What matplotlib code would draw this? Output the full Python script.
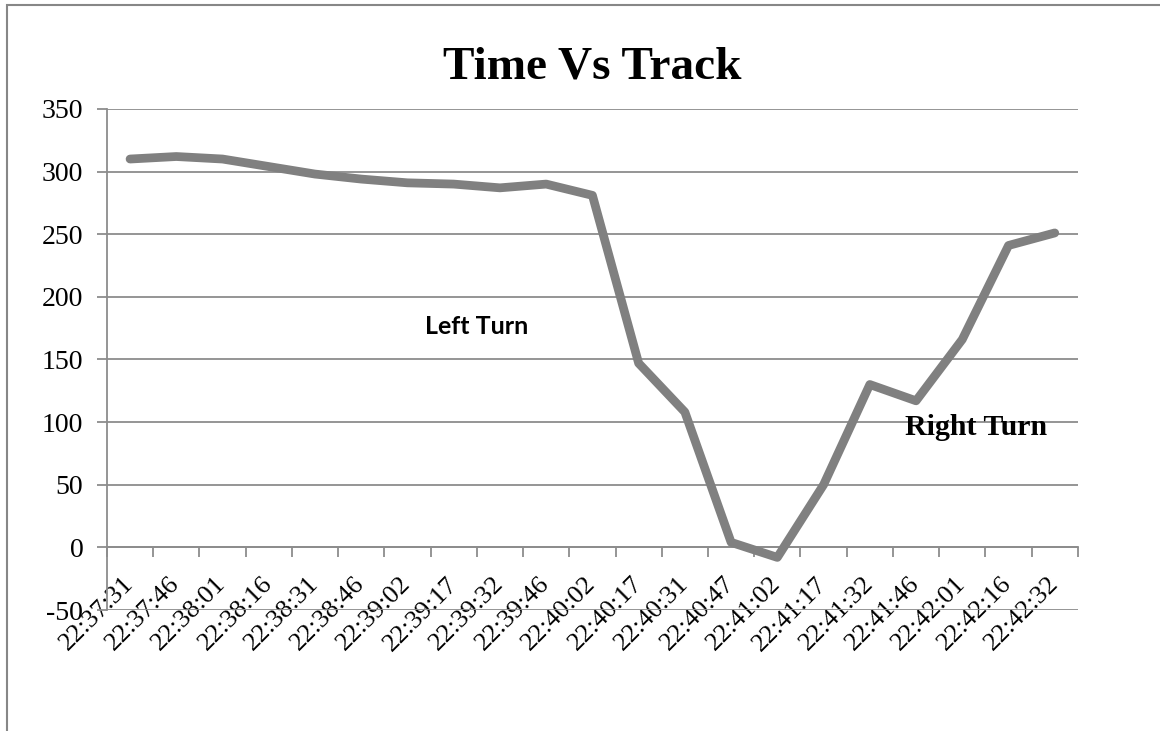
import numpy as np
import matplotlib.pyplot as plt
from matplotlib.patches import Rectangle

plt.rcParams['axes.unicode_minus'] = False

times = ['22:37:31', '22:37:46', '22:38:01', '22:38:16', '22:38:31', '22:38:46',
         '22:39:02', '22:39:17', '22:39:32', '22:39:46', '22:40:02', '22:40:17',
         '22:40:31', '22:40:47', '22:41:02', '22:41:17', '22:41:32', '22:41:46',
         '22:42:01', '22:42:16', '22:42:32']
track = [310, 312, 310, 304, 298, 294, 291, 290, 287, 290, 281, 147,
         108, 4, -8, 50, 130, 117, 166, 241, 251]

serif = ['Liberation Serif', 'DejaVu Serif']
grid_c = '#8c8c8c'

fig = plt.figure(figsize=(11.6, 7.31), dpi=100)
ax = fig.add_axes([0.0922, 0.1655, 0.837, 0.6855])

x = np.arange(len(times))
ax.plot(x, track, color='#808080', lw=6.3, solid_capstyle='round', zorder=3)

ax.set_xlim(-0.5, len(times) - 0.5)
ax.set_ylim(-50, 350)
ax.set_yticks(np.arange(-50, 351, 50))
ax.yaxis.grid(True, color=grid_c, lw=1.3)
ax.set_axisbelow(True)

for s in ['top', 'right']:
    ax.spines[s].set_visible(False)
ax.spines['left'].set_color(grid_c)
ax.spines['left'].set_linewidth(1.3)
ax.spines['bottom'].set_position(('data', 0))
ax.spines['bottom'].set_color(grid_c)
ax.spines['bottom'].set_linewidth(1.3)

ax.tick_params(axis='y', length=7, width=1.3, color=grid_c, labelsize=20, pad=10)
for t in ax.get_yticklabels():
    t.set_fontfamily(serif)

ax.set_xticks(x)
ax.set_xticklabels(times, fontsize=19, fontfamily=serif, rotation=45,
                   ha='right', va='center', rotation_mode='anchor')
ax.tick_params(axis='x', which='major', length=0, pad=24)
ax.set_xticks(np.arange(-0.5, len(times), 1), minor=True)
ax.tick_params(axis='x', which='minor', length=7, width=1.3, color=grid_c)

ax.set_title('Time Vs Track', fontsize=34, fontweight='bold', fontfamily=serif, pad=22)

ax.text(7.5, 176, 'Left Turn', fontsize=18, fontweight='bold',
        fontfamily=['Lato', 'DejaVu Sans'], ha='center', va='center')
ax.text(18.3, 96, 'Right Turn', fontsize=21.5, fontweight='bold',
        fontfamily=serif, ha='center', va='center')

fig.patches.append(Rectangle((7 / 1160, -0.1), 1.2, 1.1 - 5 / 731,
                             transform=fig.transFigure, fill=False,
                             edgecolor='#878787', lw=1.5))

fig.savefig('out.png', dpi=100)
